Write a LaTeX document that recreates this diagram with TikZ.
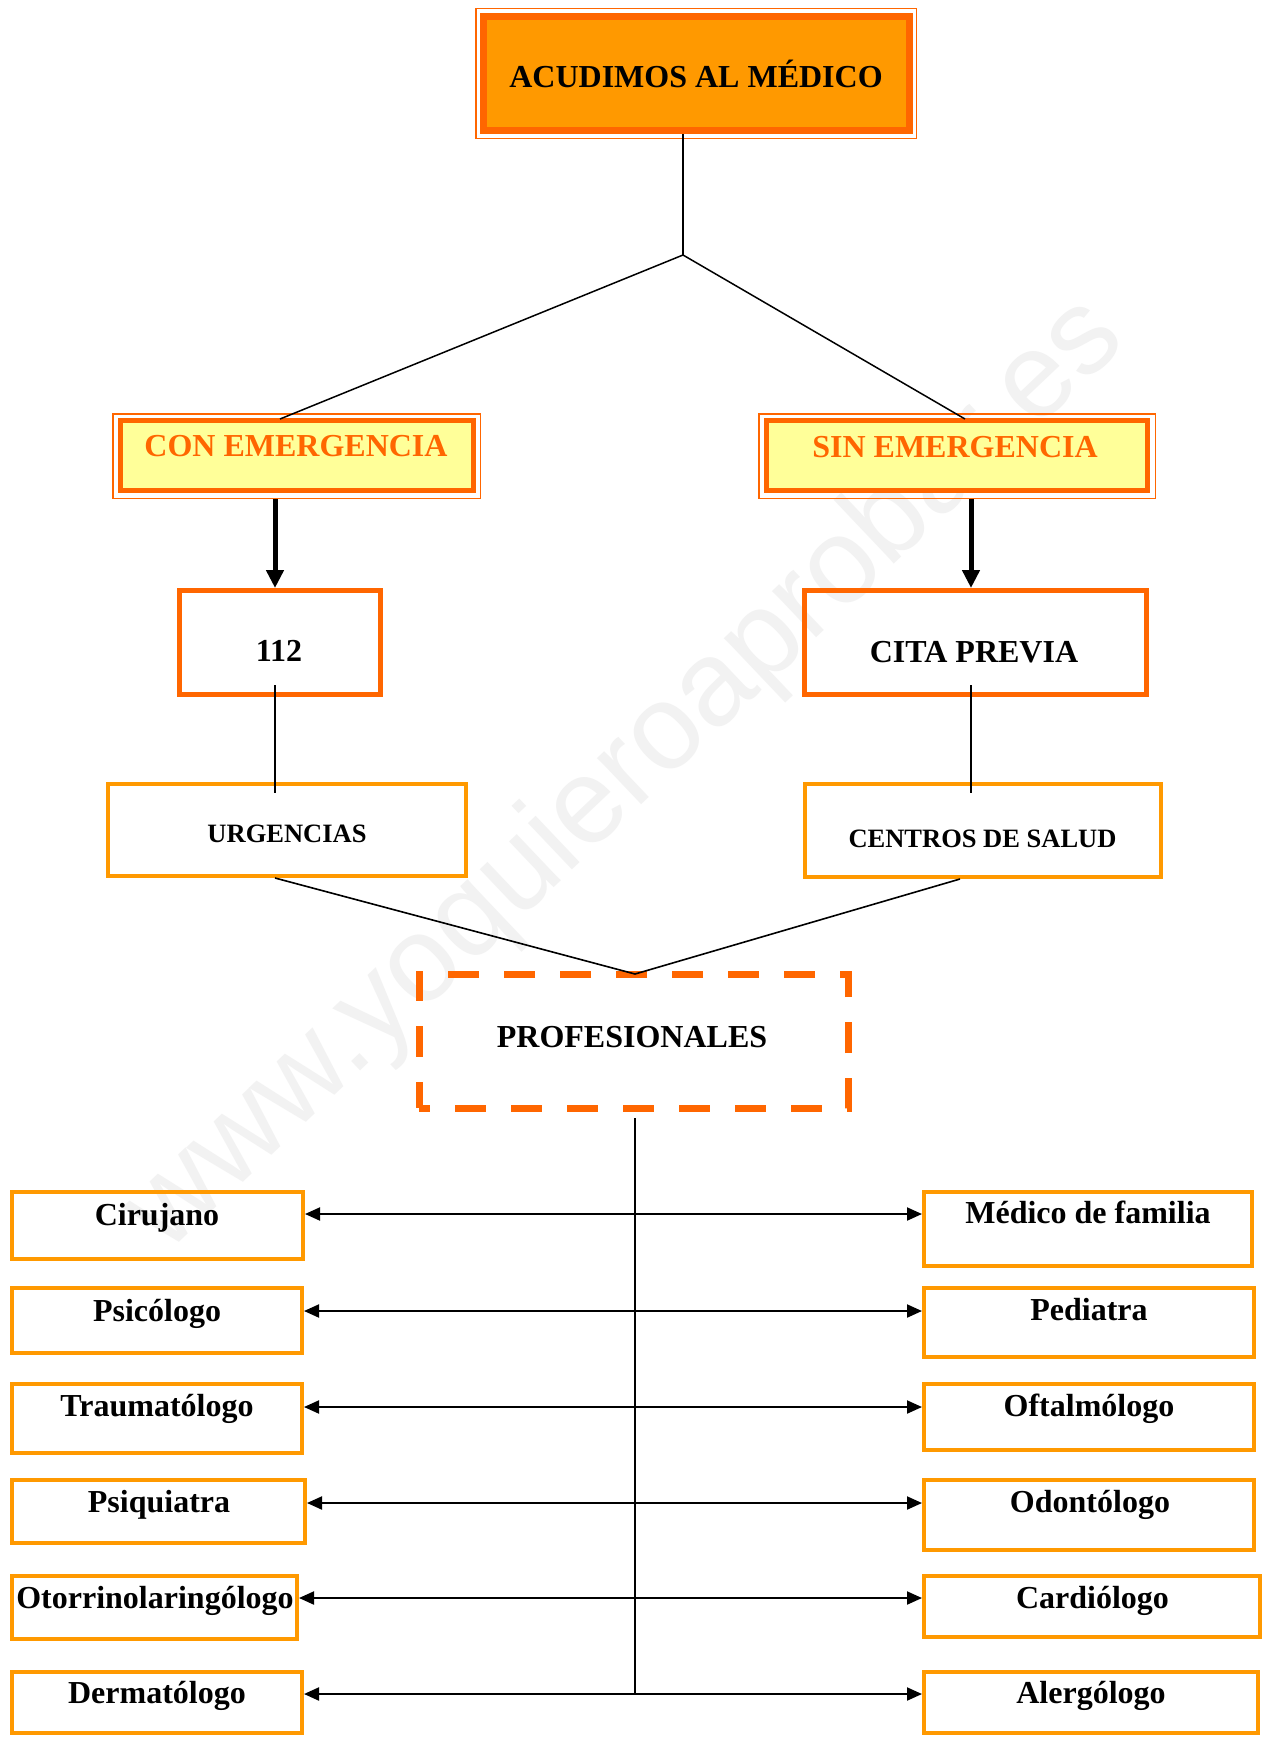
\documentclass[tikz,border=0pt]{standalone}
\usepackage{fontspec}
\setmainfont{Liberation Serif}
\newfontfamily\wmfont{Liberation Sans}
\usetikzlibrary{arrows.meta,calc}
\definecolor{dorange}{HTML}{FF6600}
\definecolor{lorange}{HTML}{FF9900}
\definecolor{lyellow}{HTML}{FFFF99}
\begin{document}
\begin{tikzpicture}[x=1pt,y=-1pt,
  lbl/.style={anchor=base, inner sep=0pt, font=\fontsize{32}{36}\selectfont\bfseries},
  slbl/.style={anchor=base, inner sep=0pt, font=\fontsize{26.5}{30}\selectfont\bfseries},
  listbox/.style={rectangle, draw=lorange, line width=4pt, inner sep=0pt},
  darkbox/.style={rectangle, draw=dorange, line width=5pt, inner sep=0pt},
  frame/.style={rectangle, draw=dorange, line width=1.5pt, inner sep=0pt},
  dashbox/.style={rectangle, draw=dorange, line width=7pt, dash pattern=on 31pt off 25pt, dash phase=20pt, inner sep=0pt},
  conn/.style={draw=black, line width=1.6pt},
  bigarrow/.style={draw=black, line width=5pt, -{Triangle[length=18pt,width=17pt]}},
  rowarrow/.style={draw=black, line width=2pt, {Triangle[length=15pt,width=13pt]}-{Triangle[length=15pt,width=13pt]}}
]
\useasboundingbox (0,0) rectangle (1270,1737);
\fill[white] (0,0) rectangle (1270,1737);

% watermark
\node[rotate=43.5, text=black!5, font=\fontsize{121}{121}\selectfont\wmfont, inner sep=0pt] (wm) at (626,776) {www.yoquieroaprobar.es};

% top box
\node[frame, minimum width=440.5pt, minimum height=129.5pt] (topf) at (696,73.5) {};
\node[rectangle, draw=dorange, fill=lorange, line width=7pt, inner sep=0pt, minimum width=426pt, minimum height=114pt] (top) at (696.5,73.5) {};
\node[lbl] (ttop) at (696,88) {ACUDIMOS AL MÉDICO};

% con / sin emergencia
\node[frame, minimum width=367.5pt, minimum height=84.5pt] (conf) at (296.5,456) {};
\node[rectangle, draw=dorange, fill=lyellow, line width=5pt, inner sep=0pt, minimum width=353pt, minimum height=70pt] (con) at (297,455.5) {};
\node[lbl, text=dorange] (tcon) at (296,456) {CON EMERGENCIA};

\node[frame, minimum width=396.5pt, minimum height=84.5pt] (sinf) at (957,456) {};
\node[rectangle, draw=dorange, fill=lyellow, line width=5pt, inner sep=0pt, minimum width=381pt, minimum height=70pt] (sin) at (957,455.5) {};
\node[lbl, text=dorange] (tsin) at (955,457) {SIN EMERGENCIA};

% 112 / cita previa
\node[darkbox, minimum width=201pt, minimum height=104pt] (b112) at (280,642.5) {};
\node[lbl] (t112) at (279,661) {112};
\node[darkbox, minimum width=342pt, minimum height=104pt] (cita) at (975.5,642.5) {};
\node[lbl] (tcita) at (974,662) {CITA PREVIA};

% urgencias / centros
\node[listbox, minimum width=358pt, minimum height=92pt] (urg) at (287,830) {};
\node[slbl] (turg) at (287,842) {URGENCIAS};
\node[listbox, minimum width=356pt, minimum height=93pt] (cen) at (983,830.5) {};
\node[slbl] (tcen) at (982.5,847) {CENTROS DE SALUD};

% profesionales
\node[dashbox, minimum width=429pt, minimum height=134pt] (prof) at (633.5,1041) {};
\node[lbl] (tprof) at (632,1047) {PROFESIONALES};

% left list
\node[listbox, minimum width=291pt, minimum height=67pt] (cir) at (157.5,1225.5) {};
\node[lbl] (tcir) at (157,1225) {Cirujano};
\node[listbox, minimum width=290pt, minimum height=65pt] (psi) at (157,1320.5) {};
\node[lbl] (tpsi) at (157,1321) {Psicólogo};
\node[listbox, minimum width=290pt, minimum height=69pt] (tra) at (157,1418.5) {};
\node[lbl] (ttra) at (157,1416) {Traumatólogo};
\node[listbox, minimum width=293pt, minimum height=63pt] (psq) at (158.5,1511.5) {};
\node[lbl] (tpsq) at (159,1512) {Psiquiatra};
\node[listbox, minimum width=285pt, minimum height=63pt] (oto) at (154.5,1607.5) {};
\node[lbl] (toto) at (155,1608) {Otorrinolaringólogo};
\node[listbox, minimum width=290pt, minimum height=61pt] (der) at (157,1702.5) {};
\node[lbl] (tder) at (157,1703) {Dermatólogo};

% right list
\node[listbox, minimum width=328pt, minimum height=74pt] (med) at (1088,1229) {};
\node[lbl] (tmed) at (1088,1223) {Médico de familia};
\node[listbox, minimum width=330pt, minimum height=69pt] (ped) at (1089,1322.5) {};
\node[lbl] (tped) at (1089,1320) {Pediatra};
\node[listbox, minimum width=330pt, minimum height=66pt] (oft) at (1089,1417) {};
\node[lbl] (toft) at (1089,1416) {Oftalmólogo};
\node[listbox, minimum width=330pt, minimum height=70pt] (odo) at (1089,1515) {};
\node[lbl] (todo) at (1090,1512) {Odontólogo};
\node[listbox, minimum width=336pt, minimum height=61pt] (car) at (1092,1606.5) {};
\node[lbl] (tcar) at (1092.5,1608) {Cardiólogo};
\node[listbox, minimum width=334pt, minimum height=61pt] (ale) at (1091,1702.5) {};
\node[lbl] (tale) at (1091,1703) {Alergólogo};

% coordinates
\coordinate (J) at (683,255);
\coordinate (cA) at (280,419);
\coordinate (sA) at (965,419);
\coordinate (xL) at (275,0);
\coordinate (xR) at (971,0);
\coordinate (u1) at (275,685);
\coordinate (u2) at (275,793);
\coordinate (c1) at (971,685);
\coordinate (c2) at (971,793);
\coordinate (uB) at (275,878);
\coordinate (cB) at (960,879);
\coordinate (V) at (635,974);
\coordinate (P1) at (635,1118);
\coordinate (P2) at (635,1694);
\coordinate (r1) at (635,1214);
\coordinate (r2) at (635,1311);
\coordinate (r3) at (635,1407);
\coordinate (r4) at (635,1503);
\coordinate (r5) at (635,1598);
\coordinate (r6) at (635,1694);

% connectors
\draw[conn, line width=1.5pt] (top.south -| J) -- (J);
\draw[conn, line width=1.5pt] (J) -- (cA);
\draw[conn, line width=1.5pt] (J) -- (sA);
\draw[bigarrow] (xL |- conf.south) -- (xL |- b112.north);
\draw[bigarrow] (xR |- sinf.south) -- (xR |- cita.north);
\draw[conn] (u1) -- (u2);
\draw[conn] (c1) -- (c2);
\draw[conn] (uB) -- (V);
\draw[conn] (cB) -- (V);
\draw[conn, line width=2.2pt] (P1) -- (P2);
\draw[rowarrow] (r1 -| cir.east) -- (r1 -| med.west);
\draw[rowarrow] (r2 -| psi.east) -- (r2 -| ped.west);
\draw[rowarrow] (r3 -| tra.east) -- (r3 -| oft.west);
\draw[rowarrow] (r4 -| psq.east) -- (r4 -| odo.west);
\draw[rowarrow] (r5 -| oto.east) -- (r5 -| car.west);
\draw[rowarrow] (r6 -| der.east) -- (r6 -| ale.west);
\end{tikzpicture}
\end{document}
